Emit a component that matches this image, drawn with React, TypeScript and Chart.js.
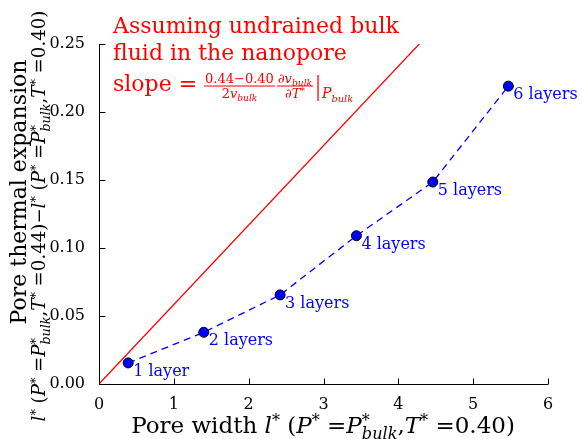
import { useEffect, useRef } from 'react'
import { Chart, registerables } from 'chart.js'

Chart.register(...registerables)

// pore width l* and pore thermal expansion for each layer count
const poreWidth = [0.39, 1.4, 2.42, 3.44, 4.46, 5.47]
const expansion = [0.0155, 0.038, 0.0655, 0.109, 0.1485, 0.219]
const layerLabels = ['1 layer', '2 layers', '3 layers', '4 layers', '5 layers', '6 layers']

// undrained bulk fluid reference line
const bulkLineX = [0, 6]
const bulkLineY = [0, 0.3505]

const xTicks = [0, 1, 2, 3, 4, 5, 6]
const yTicks = [0, 0.05, 0.1, 0.15, 0.2, 0.25]

const SERIF = '"DejaVu Serif", serif'
const BLUE = '#0000ff'
const RED = '#ff0000'

type Seg = { t: string; it?: boolean; sup?: string; sub?: string }

const fnt = (size: number, it?: boolean) => `${it ? 'italic ' : ''}${size}px ${SERIF}`

function richWidth(ctx: CanvasRenderingContext2D, segs: Seg[], size: number) {
  let total = 0
  for (const s of segs) {
    ctx.font = fnt(size, s.it)
    const w = ctx.measureText(s.t).width
    let e = 0
    if (s.sup) {
      ctx.font = fnt(size * 0.7)
      e = ctx.measureText(s.sup).width
    }
    if (s.sub) {
      ctx.font = fnt(size * 0.7, true)
      e = Math.max(e, ctx.measureText(s.sub).width)
    }
    total += w + e
  }
  return total
}

function drawRich(ctx: CanvasRenderingContext2D, segs: Seg[], x: number, y: number, size: number, align: 'left' | 'center') {
  const total = richWidth(ctx, segs, size)
  let cx = align === 'center' ? x - total / 2 : x
  ctx.textAlign = 'left'
  ctx.textBaseline = 'alphabetic'
  for (const s of segs) {
    ctx.font = fnt(size, s.it)
    ctx.fillText(s.t, cx, y)
    const w = ctx.measureText(s.t).width
    let e = 0
    if (s.sup) {
      ctx.font = fnt(size * 0.7)
      ctx.fillText(s.sup, cx + w, y - size * 0.3)
      e = ctx.measureText(s.sup).width
    }
    if (s.sub) {
      ctx.font = fnt(size * 0.7, true)
      ctx.fillText(s.sub, cx + w, y + size * 0.25)
      e = Math.max(e, ctx.measureText(s.sub).width)
    }
    cx += w + e
  }
  return total
}

const xLabel: Seg[] = [
  { t: 'Pore width ' },
  { t: 'l', it: true, sup: '*' },
  { t: ' (' },
  { t: 'P', it: true, sup: '*' },
  { t: ' =' },
  { t: 'P', it: true, sup: '*', sub: 'bulk' },
  { t: ',' },
  { t: 'T', it: true, sup: '*' },
  { t: ' =0.40)' },
]

const yLabel2: Seg[] = [
  { t: 'l', it: true, sup: '*' },
  { t: ' (' },
  { t: 'P', it: true, sup: '*' },
  { t: ' =' },
  { t: 'P', it: true, sup: '*', sub: 'bulk' },
  { t: ',' },
  { t: 'T', it: true, sup: '*' },
  { t: ' =0.44)\u2212' },
  { t: 'l', it: true, sup: '*' },
  { t: ' (' },
  { t: 'P', it: true, sup: '*' },
  { t: ' =' },
  { t: 'P', it: true, sup: '*', sub: 'bulk' },
  { t: ',' },
  { t: 'T', it: true, sup: '*' },
  { t: ' =0.40)' },
]

const decor = {
  id: 'decor',
  afterDraw(chart: Chart) {
    const ctx = chart.ctx
    const { left, right, top, bottom } = chart.chartArea
    const xs = chart.scales.x
    const ys = chart.scales.y
    ctx.save()

    // axes and inward ticks
    ctx.strokeStyle = '#000'
    ctx.lineWidth = 1
    const L = Math.round(left) + 0.5
    const B = Math.round(bottom) + 0.5
    ctx.beginPath()
    ctx.moveTo(L, top)
    ctx.lineTo(L, B)
    ctx.lineTo(right, B)
    for (const v of xTicks) {
      const px = Math.round(xs.getPixelForValue(v)) + 0.5
      ctx.moveTo(px, B)
      ctx.lineTo(px, B - 6)
    }
    for (const v of yTicks) {
      const py = Math.round(ys.getPixelForValue(v)) + 0.5
      ctx.moveTo(L, py)
      ctx.lineTo(L + 6, py)
    }
    ctx.stroke()

    // layer labels
    ctx.fillStyle = BLUE
    ctx.font = fnt(16)
    ctx.textAlign = 'left'
    ctx.textBaseline = 'alphabetic'
    poreWidth.forEach((w, i) => {
      const px = xs.getPixelForValue(w)
      const py = ys.getPixelForValue(expansion[i])
      ctx.fillText(layerLabels[i], px + 5, py + 13)
    })

    // annotation
    ctx.fillStyle = RED
    ctx.strokeStyle = RED
    ctx.font = fnt(22)
    ctx.fillText('Assuming undrained bulk', 113, 33)
    ctx.fillText('fluid in the nanopore', 113, 60)
    ctx.fillText('slope =', 113, 91)
    let x = 113 + ctx.measureText('slope =').width + 7
    const fs = 13
    const num1: Seg[] = [{ t: '0.44\u22120.40' }]
    const den1: Seg[] = [{ t: '2' }, { t: 'v', it: true, sub: 'bulk' }]
    const num2: Seg[] = [{ t: '\u2202' }, { t: 'v', it: true, sub: 'bulk' }]
    const den2: Seg[] = [{ t: '\u2202' }, { t: 'T', it: true, sup: '*' }]
    const w1 = Math.max(richWidth(ctx, num1, fs), richWidth(ctx, den1, fs)) + 2
    drawRich(ctx, num1, x + w1 / 2, 83, fs, 'center')
    drawRich(ctx, den1, x + w1 / 2, 98, fs, 'center')
    ctx.lineWidth = 1
    ctx.beginPath()
    ctx.moveTo(x, 86)
    ctx.lineTo(x + w1, 86)
    ctx.stroke()
    x += w1 + 2
    const w2 = Math.max(richWidth(ctx, num2, fs), richWidth(ctx, den2, fs)) + 2
    drawRich(ctx, num2, x + w2 / 2, 83, fs, 'center')
    drawRich(ctx, den2, x + w2 / 2, 98, fs, 'center')
    ctx.beginPath()
    ctx.moveTo(x, 86)
    ctx.lineTo(x + w2, 86)
    ctx.stroke()
    x += w2 + 5
    ctx.lineWidth = 1.3
    ctx.beginPath()
    ctx.moveTo(x, 75)
    ctx.lineTo(x, 101)
    ctx.stroke()
    drawRich(ctx, [{ t: 'P', it: true, sub: 'bulk' }], x + 4, 98, 14, 'left')

    // axis titles
    ctx.fillStyle = '#000'
    drawRich(ctx, xLabel, 323, 433, 23, 'center')
    ctx.save()
    ctx.translate(26, 192)
    ctx.rotate(-Math.PI / 2)
    ctx.font = fnt(22)
    ctx.textAlign = 'center'
    ctx.fillText('Pore thermal expansion', 0, 0)
    ctx.restore()
    ctx.save()
    ctx.translate(45, 216)
    ctx.rotate(-Math.PI / 2)
    const fit = (20 * 411) / richWidth(ctx, yLabel2, 20)
    drawRich(ctx, yLabel2, 0, 0, fit, 'center')
    ctx.restore()

    ctx.restore()
  },
}

export default function App() {
  const ref = useRef<HTMLCanvasElement | null>(null)

  useEffect(() => {
    document.body.style.margin = '0'
    if (!ref.current) return
    const chart = new Chart(ref.current, {
      type: 'scatter',
      data: {
        datasets: [
          {
            label: 'layers',
            data: poreWidth.map((w, i) => ({ x: w, y: expansion[i] })),
            showLine: true,
            borderColor: BLUE,
            borderWidth: 1.3,
            borderDash: [7, 5],
            pointRadius: 5,
            pointBackgroundColor: BLUE,
            pointBorderColor: '#000',
            pointBorderWidth: 1,
          },
          {
            label: 'bulk',
            data: bulkLineX.map((v, i) => ({ x: v, y: bulkLineY[i] })),
            showLine: true,
            borderColor: RED,
            borderWidth: 1.3,
            pointRadius: 0,
          },
        ],
      },
      options: {
        animation: false,
        responsive: false,
        layout: { padding: { top: 44, right: 34, bottom: 0, left: 0 } },
        plugins: { legend: { display: false }, tooltip: { enabled: false } },
        scales: {
          x: {
            type: 'linear',
            min: 0,
            max: 6,
            grid: { display: false },
            border: { display: false },
            ticks: {
              color: '#000',
              font: { family: SERIF, size: 16 },
              padding: 3,
              maxRotation: 0,
              callback: (v) => String(v),
            },
            afterBuildTicks: (s) => {
              s.ticks = xTicks.map((v) => ({ value: v }))
            },
            afterFit: (s) => {
              s.height = 55
            },
          },
          y: {
            type: 'linear',
            min: 0,
            max: 0.25,
            grid: { display: false },
            border: { display: false },
            ticks: {
              color: '#000',
              font: { family: SERIF, size: 16 },
              padding: 6,
              callback: (v) => Number(v).toFixed(2),
            },
            afterBuildTicks: (s) => {
              s.ticks = yTicks.map((v) => ({ value: v }))
            },
            afterFit: (s) => {
              s.width = 99
            },
          },
        },
      },
      plugins: [decor],
    })
    return () => chart.destroy()
  }, [])

  return (
    <div style={{ width: 582, height: 439, background: '#fff' }}>
      <canvas ref={ref} width={582} height={439} />
    </div>
  )
}
